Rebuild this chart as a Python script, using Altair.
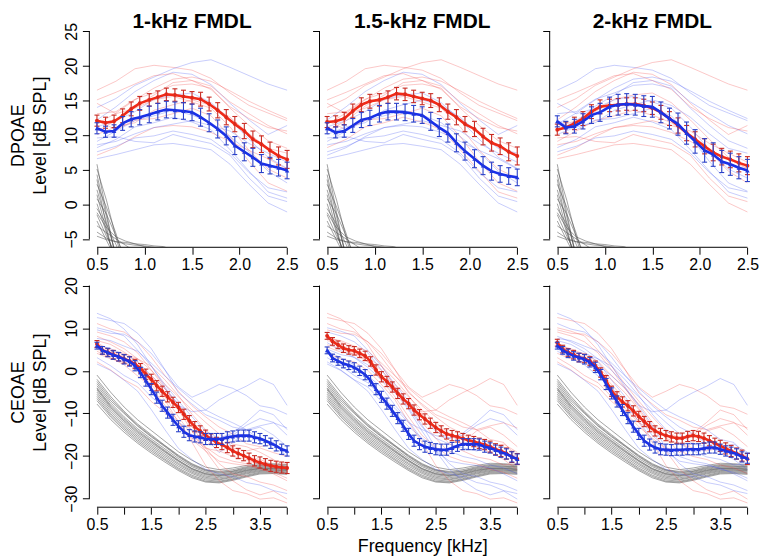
import altair as alt
import pandas as pd

FONT = "Liberation Sans"

# ---------------- text ----------------
panel_titles = ["1-kHz FMDL", "1.5-kHz FMDL", "2-kHz FMDL"]
row_titles = [["DPOAE", "Level [dB SPL]"], ["CEOAE", "Level [dB SPL]"]]
x_title = "Frequency [kHz]"

# ---------------- ticks ----------------
dp_xticks = [0.5, 1.0, 1.5, 2.0, 2.5]
dp_yticks = [-5, 0, 5, 10, 15, 20, 25]
ce_xticks = [0.5, 1.0, 1.5, 2.0, 2.5, 3.0, 3.5, 4.0]
ce_xlabels = [0.5, 1.5, 2.5, 3.5]
ce_yticks = [-30, -20, -10, 0, 10, 20]

# ---------------- DPOAE group means (kHz grid of the mean curves) ----------------
dp_mean_x = [0.5, 0.59, 0.68, 0.77, 0.86, 0.95, 1.05, 1.14, 1.23, 1.32, 1.41, 1.5,
             1.59, 1.68, 1.77, 1.86, 1.95, 2.05, 2.14, 2.23, 2.32, 2.41, 2.5]
dp_red_1 = [12.1, 11.8, 12.0, 12.8, 13.8, 14.6, 15.1, 15.5, 15.9, 15.8, 15.6, 15.4,
            15.2, 14.5, 13.6, 12.6, 11.6, 10.6, 9.4, 8.7, 7.8, 7.0, 6.5]
dp_blue_1 = [11.0, 10.5, 10.6, 11.7, 12.3, 12.6, 13.0, 13.4, 13.7, 13.6, 13.5, 13.3,
             12.6, 11.8, 10.9, 9.9, 8.5, 7.6, 6.8, 5.9, 5.6, 5.3, 4.9]
dp_red_2 = [11.9, 12.0, 12.4, 13.5, 14.4, 14.9, 15.1, 15.5, 16.0, 15.9, 15.6, 15.3,
            15.0, 14.4, 13.4, 12.6, 11.6, 10.9, 9.8, 8.9, 8.4, 7.6, 7.0]
dp_blue_2 = [11.0, 10.4, 10.6, 11.4, 12.2, 12.5, 13.1, 13.4, 13.4, 13.3, 13.1, 12.9,
             12.0, 11.1, 10.3, 8.9, 7.7, 6.6, 5.6, 4.8, 4.4, 4.1, 3.9]
dp_red_3 = [10.8, 11.1, 11.7, 12.4, 13.4, 14.1, 14.3, 14.4, 14.5, 14.5, 14.3, 13.9,
            13.3, 12.4, 11.4, 10.3, 9.4, 8.4, 7.5, 6.9, 6.5, 6.0, 5.6]
dp_blue_3 = [12.0, 11.1, 11.3, 12.0, 12.9, 13.3, 14.1, 14.4, 14.5, 14.4, 14.2, 14.1,
             13.3, 12.4, 11.6, 10.3, 9.1, 7.8, 7.2, 6.2, 5.8, 5.3, 4.9]
dp_sem_red = [0.8, 0.8, 0.9, 1.0, 1.0, 1.0, 0.9, 0.9, 0.9, 0.9, 0.9, 0.9,
              1.0, 1.0, 1.1, 1.1, 1.1, 1.1, 1.2, 1.2, 1.2, 1.3, 1.3]
dp_sem_blue = [0.8, 0.8, 0.9, 1.0, 1.1, 1.1, 1.2, 1.2, 1.2, 1.2, 1.2, 1.2,
               1.3, 1.3, 1.3, 1.3, 1.3, 1.3, 1.3, 1.3, 1.2, 1.2, 1.2]
dp_sem_blue_3 = [0.8, 0.9, 1.0, 1.1, 1.2, 1.3, 1.4, 1.5, 1.5, 1.5, 1.5, 1.5,
                 1.5, 1.5, 1.6, 1.6, 1.7, 1.7, 1.7, 1.6, 1.6, 1.6, 1.6]

# ---------------- CEOAE group means ----------------
ce_mean_x = [0.5, 0.6, 0.7, 0.8, 0.9, 1.0, 1.1, 1.2, 1.3, 1.4, 1.5, 1.6, 1.7, 1.8,
             1.9, 2.0, 2.1, 2.2, 2.3, 2.4, 2.5, 2.6, 2.7, 2.8, 2.9, 3.0, 3.1, 3.2,
             3.3, 3.4, 3.5, 3.6, 3.7, 3.8, 3.9, 4.0]
ce_red_1 = [6.3, 4.8, 4.3, 3.8, 3.3, 2.8, 2.3, 1.6, 0.6, -0.8, -2.0, -3.5, -4.8, -6.1,
            -7.4, -8.6, -10.2, -11.7, -13.1, -14.1, -15.1, -16.0, -16.8, -17.3, -18.0,
            -18.8, -19.4, -19.9, -20.5, -21.1, -21.5, -21.9, -22.3, -22.5, -22.7, -22.8]
ce_blue_1 = [5.9, 4.8, 4.3, 3.7, 3.3, 2.7, 2.2, 1.2, -0.4, -2.3, -4.3, -6.3, -8.2, -9.8,
             -11.5, -13.0, -14.3, -15.1, -15.4, -15.6, -16.0, -16.0, -16.0, -16.0, -15.6,
             -15.4, -15.2, -15.2, -15.2, -15.6, -15.9, -16.4, -17.0, -17.6, -18.4, -18.8]
ce_red_2 = [8.2, 6.9, 6.1, 5.3, 4.9, 4.7, 4.1, 3.5, 2.2, 0.2, -1.4, -2.5, -3.8, -5.3,
            -6.6, -7.7, -9.2, -10.3, -11.3, -12.3, -13.3, -14.1, -14.8, -15.2, -15.5,
            -15.9, -16.3, -16.6, -17.0, -17.3, -17.8, -18.4, -18.8, -19.4, -20.2, -20.7]
ce_blue_2 = [4.8, 3.0, 2.3, 1.7, 1.3, 0.8, 0.0, -0.9, -2.3, -4.3, -6.1, -7.7, -9.4, -11.1,
             -12.9, -14.8, -16.4, -17.2, -17.8, -18.1, -18.4, -18.5, -18.5, -18.1, -17.6,
             -17.2, -17.2, -17.2, -17.3, -17.8, -18.1, -18.6, -19.1, -19.5, -20.2, -20.7]
ce_red_3 = [6.6, 5.1, 4.3, 3.8, 3.1, 2.9, 2.3, 1.2, -0.4, -2.3, -4.8, -6.1, -7.3, -8.2,
            -9.4, -10.7, -11.9, -13.1, -14.1, -14.7, -15.2, -15.5, -15.8, -15.8, -15.4,
            -15.2, -15.4, -15.8, -16.4, -17.0, -17.6, -18.2, -18.8, -19.4, -19.9, -20.7]
ce_blue_3 = [5.9, 4.8, 4.1, 3.5, 3.1, 2.7, 2.0, 0.8, -0.9, -3.1, -5.3, -7.2, -9.2, -11.1,
             -13.1, -14.8, -16.4, -17.3, -18.0, -18.4, -18.5, -18.6, -18.5, -18.5, -18.4,
             -18.4, -18.4, -18.2, -18.0, -18.0, -18.4, -18.8, -19.1, -19.5, -20.2, -20.5]
ce_sem_red = [0.8, 0.9, 0.9, 1.0, 1.0, 1.0, 1.0, 1.1, 1.1, 1.2, 1.2, 1.2, 1.2, 1.2,
              1.2, 1.2, 1.2, 1.2, 1.2, 1.2, 1.2, 1.2, 1.2, 1.2, 1.2, 1.2, 1.2, 1.2,
              1.2, 1.2, 1.3, 1.3, 1.3, 1.3, 1.3, 1.3]
ce_sem_blue = [0.8, 0.9, 1.0, 1.0, 1.0, 1.1, 1.1, 1.2, 1.2, 1.3, 1.3, 1.3, 1.3, 1.3,
               1.3, 1.3, 1.3, 1.3, 1.3, 1.3, 1.3, 1.3, 1.3, 1.3, 1.3, 1.3, 1.3, 1.3,
               1.3, 1.3, 1.2, 1.2, 1.2, 1.2, 1.2, 1.2]

# ---------------- individual DPOAE curves ----------------
dp_ind_x = [0.5, 0.7, 0.9, 1.1, 1.3, 1.5, 1.7, 1.9, 2.1, 2.3, 2.5]
dp_ind = [
    [16.5, 17.8, 19.6, 20.1, 19.8, 19.4, 18.2, 16.1, 14.3, 13.2, 12.1],
    [14.0, 15.3, 17.2, 18.4, 19.6, 20.5, 20.9, 19.8, 18.6, 17.4, 16.5],
    [12.2, 14.1, 16.3, 17.9, 19.1, 18.8, 17.3, 14.6, 12.2, 10.1, 11.4],
    [13.1, 13.4, 15.2, 16.1, 17.2, 17.4, 16.8, 13.9, 11.4, 9.2, 8.1],
    [11.2, 12.1, 13.4, 15.2, 15.8, 16.1, 14.7, 12.2, 9.4, 6.8, 5.2],
    [10.1, 11.2, 11.8, 13.6, 14.4, 15.1, 14.3, 12.6, 10.2, 8.1, 7.4],
    [9.1, 10.6, 12.1, 12.8, 13.6, 12.9, 11.8, 9.8, 7.6, 4.8, 3.1],
    [8.2, 9.4, 11.2, 11.8, 12.6, 11.9, 10.8, 7.9, 4.8, 1.8, 0.9],
    [12.1, 10.8, 12.2, 12.4, 13.1, 13.9, 12.8, 9.8, 6.2, 3.1, 1.9],
    [7.1, 8.2, 9.8, 11.1, 11.4, 11.2, 10.4, 9.1, 7.8, 6.6, 5.1],
    [9.6, 9.8, 9.1, 8.9, 10.1, 9.4, 8.8, 7.1, 3.8, 1.2, 0.4],
    [14.6, 13.1, 13.9, 15.1, 15.6, 14.8, 13.9, 11.2, 7.8, 5.1, 3.8],
    [10.6, 12.1, 14.2, 15.8, 17.6, 17.9, 17.1, 14.8, 13.1, 11.4, 10.2],
    [6.6, 7.2, 7.9, 8.6, 8.8, 8.4, 7.9, 5.8, 2.9, 0.2, -1.1],
    [11.6, 13.2, 15.1, 16.8, 18.1, 18.4, 17.8, 16.4, 14.9, 13.6, 12.4],
    [8.6, 9.1, 10.2, 11.1, 11.6, 12.1, 11.4, 10.6, 8.8, 7.4, 6.1],
    [15.1, 16.2, 17.4, 18.6, 18.9, 17.9, 16.6, 14.1, 12.4, 11.1, 10.6],
    [7.6, 8.4, 9.6, 9.9, 10.6, 10.1, 9.4, 7.4, 4.6, 2.4, 1.8],
]
dp_groups = ["rbbrbrbbrrbrrbrbrb", "rrbrbbbrrbbrrbrbrb", "brrbrbrbbrrbbrbrrb"]

# ---------------- DPOAE noise floors ----------------
dp_noise_x = [0.5, 0.6, 0.7, 0.8, 0.9, 1.0, 1.1, 1.2, 1.3]
dp_noise = [
    [5.8, -1.2, -8.0, -12.0, -12.0, -12.0, -12.0, -12.0, -12.0],
    [5.1, 0.6, -4.8, -9.5, -12.0, -12.0, -12.0, -12.0, -12.0],
    [4.3, -1.8, -7.6, -12.0, -12.0, -12.0, -12.0, -12.0, -12.0],
    [3.6, -3.2, -9.4, -12.0, -12.0, -12.0, -12.0, -12.0, -12.0],
    [2.9, -0.4, -4.2, -8.8, -12.0, -12.0, -12.0, -12.0, -12.0],
    [2.1, -2.6, -7.2, -12.0, -12.0, -12.0, -12.0, -12.0, -12.0],
    [1.4, -3.8, -8.6, -12.0, -12.0, -12.0, -12.0, -12.0, -12.0],
    [0.8, -1.4, -4.6, -7.8, -12.0, -12.0, -12.0, -12.0, -12.0],
    [0.1, -4.1, -8.2, -12.0, -12.0, -12.0, -12.0, -12.0, -12.0],
    [-0.6, -2.9, -5.8, -8.9, -12.0, -12.0, -12.0, -12.0, -12.0],
    [-1.5, -4.6, -7.2, -12.0, -12.0, -12.0, -12.0, -12.0, -12.0],
    [-2.4, -5.2, -7.9, -12.0, -12.0, -12.0, -12.0, -12.0, -12.0],
    [-3.1, -4.1, -5.0, -5.9, -6.8, -8.0, -12.0, -12.0, -12.0],
    [-4.0, -4.9, -5.4, -5.7, -5.9, -6.0, -6.2, -6.6, -7.0],
    [-4.6, -5.1, -5.4, -5.5, -5.7, -5.8, -6.0, -6.1, -6.6],
    [-1.2, -3.4, -4.7, -5.3, -5.7, -6.1, -6.5, -7.0, -7.5],
]

# ---------------- individual CEOAE curves ----------------
ce_ind_x = [0.5, 0.75, 1.0, 1.25, 1.5, 1.75, 2.0, 2.25, 2.5, 2.75, 3.0, 3.25, 3.5, 3.75, 4.0]
ce_ind = [
    [13.5, 12.2, 9.8, 6.1, 1.2, -3.8, -8.1, -9.6, -9.2, -6.8, -5.1, -3.6, -1.8, -3.2, -8.1],
    [12.5, 11.8, 11.1, 8.8, 5.2, 0.3, -5.2, -7.8, -10.3, -11.6, -13.2, -13.8, -12.9, -12.2, -13.4],
    [10.1, 9.3, 8.2, 4.8, 1.1, -3.2, -7.1, -10.8, -14.2, -15.8, -14.6, -12.1, -9.2, -10.3, -13.8],
    [9.1, 8.2, 6.8, 4.2, 0.2, -4.1, -8.8, -13.2, -15.8, -17.2, -18.1, -18.8, -18.1, -19.2, -20.1],
    [8.1, 6.8, 5.2, 2.8, 0.1, -3.2, -6.1, -9.2, -12.1, -14.8, -17.2, -17.8, -19.1, -20.8, -23.2],
    [7.1, 6.2, 4.4, 2.1, -2.2, -6.1, -10.8, -15.2, -17.9, -20.1, -21.2, -21.8, -23.1, -23.8, -25.2],
    [6.6, 4.8, 3.1, 0.8, -2.1, -5.2, -9.1, -14.2, -18.8, -23.1, -25.8, -27.9, -29.1, -28.2, -30.1],
    [6.1, 5.2, 3.8, 2.2, -1.1, -4.2, -7.8, -12.1, -15.8, -19.2, -16.8, -14.1, -13.2, -15.1, -17.8],
    [5.1, 3.8, 3.2, 1.4, -1.2, -4.1, -8.2, -12.8, -18.1, -21.8, -24.2, -24.8, -26.1, -26.8, -28.1],
    [4.6, 3.1, 1.4, -1.2, -3.8, -8.1, -11.8, -16.2, -18.8, -21.2, -21.8, -22.2, -22.8, -24.2, -25.8],
    [4.1, 2.8, 2.1, 0.1, -3.2, -6.8, -12.1, -16.8, -22.2, -25.8, -28.1, -28.8, -30.1, -29.8, -31.0],
    [3.1, 1.2, -1.1, -2.8, -6.1, -8.8, -12.2, -13.8, -15.2, -15.8, -15.1, -12.8, -11.2, -12.1, -15.1],
    [2.1, 0.2, -2.1, -3.8, -7.2, -9.8, -13.1, -15.8, -18.2, -18.8, -20.1, -20.8, -22.1, -22.8, -24.1],
    [11.1, 9.8, 9.1, 6.8, 3.2, -1.1, -4.8, -8.2, -10.8, -13.2, -14.8, -17.1, -17.8, -17.2, -19.1],
    [9.6, 8.8, 8.6, 6.8, 4.1, 0.2, -3.8, -6.2, -4.8, -3.2, -4.1, -5.8, -8.2, -8.8, -10.2],
    [7.6, 7.1, 5.8, 4.6, 1.8, -1.2, -4.1, -6.8, -9.2, -10.8, -12.2, -13.8, -16.1, -16.8, -20.2],
    [1.6, 0.1, -2.2, -4.8, -9.1, -13.8, -18.2, -20.8, -23.1, -24.2, -24.8, -26.2, -26.8, -28.1, -28.8],
    [5.6, 4.4, 4.1, 2.8, 1.1, -2.1, -5.8, -10.2, -13.8, -17.1, -18.8, -20.2, -20.8, -22.1, -21.8],
]
ce_groups = ["bbbrrrrbrrrbrrbbbr", "rrbbrrbrbbrbbrrrbr", "brrrbbrrbbrrrbrbbb"]

# ---------------- CEOAE noise floors ----------------
ce_noise = [
    [-1.0, -5.0, -8.5, -11.5, -14.0, -16.5, -19.0, -21.0, -22.6, -23.2, -22.8, -22.2, -21.7, -21.8, -22.0],
    [-2.0, -6.0, -9.5, -12.5, -15.0, -17.5, -19.8, -21.8, -23.2, -23.6, -23.2, -22.5, -22.0, -22.0, -22.3],
    [-3.0, -7.0, -10.0, -13.0, -15.5, -17.8, -20.2, -22.2, -23.5, -24.0, -23.6, -22.9, -22.4, -22.4, -22.6],
    [-3.5, -7.5, -10.8, -13.6, -16.0, -18.3, -20.6, -22.5, -23.8, -24.3, -23.8, -23.1, -22.6, -22.6, -22.8],
    [-4.0, -8.0, -11.2, -14.0, -16.4, -18.7, -21.0, -22.9, -24.1, -24.5, -24.0, -23.3, -22.8, -22.8, -23.0],
    [-4.5, -8.6, -11.8, -14.6, -16.9, -19.1, -21.3, -23.2, -24.4, -24.8, -24.3, -23.6, -23.0, -23.0, -23.2],
    [-5.0, -9.0, -12.2, -15.0, -17.3, -19.5, -21.7, -23.5, -24.7, -25.1, -24.6, -23.8, -23.2, -23.2, -23.4],
    [-5.5, -9.5, -12.7, -15.4, -17.7, -19.9, -22.0, -23.8, -25.0, -25.4, -24.8, -24.0, -23.4, -23.3, -23.5],
    [-6.0, -10.0, -13.1, -15.8, -18.1, -20.3, -22.4, -24.1, -25.3, -25.6, -25.0, -24.2, -23.6, -23.5, -23.7],
    [-6.5, -10.4, -13.5, -16.2, -18.5, -20.7, -22.8, -24.5, -25.6, -25.9, -25.3, -24.5, -23.8, -23.7, -23.9],
    [-7.0, -10.8, -13.9, -16.6, -18.9, -21.0, -23.1, -24.8, -25.9, -26.1, -25.5, -24.7, -24.0, -23.9, -24.1],
    [-7.8, -11.4, -14.4, -17.0, -19.3, -21.4, -23.4, -25.1, -26.1, -26.3, -25.7, -24.9, -24.2, -24.1, -24.3],
    [-2.5, -6.5, -9.8, -12.8, -15.3, -17.6, -20.0, -22.0, -23.3, -23.8, -23.5, -22.7, -22.2, -22.3, -22.5],
    [-4.2, -8.3, -11.5, -14.3, -16.6, -18.9, -21.1, -23.0, -24.2, -24.6, -24.2, -23.4, -22.9, -22.9, -23.1],
]

# ---------------- style ----------------
RED, BLUE = "#f02a18", "#1a30e8"
RED_ERR, BLUE_ERR = "#c82a22", "#2a40c8"
RED_THIN, BLUE_THIN = "#f04848", "#4858f0"
GRAY = "#505050"
W = 207
H_TOP, H_BOT = 226, 232


def long_curves(xs, curves, groups=None):
    rows = []
    for i, c in enumerate(curves):
        for x, y in zip(xs, c):
            r = {"id": i, "x": x, "y": y}
            if groups is not None:
                r["grp"] = groups[i]
            rows.append(r)
    return pd.DataFrame(rows)


def mean_df(xs, ys, sems):
    return pd.DataFrame({"x": xs, "y": ys,
                         "lo": [y - s for y, s in zip(ys, sems)],
                         "hi": [y + s for y, s in zip(ys, sems)]})


def panel(kind, col):
    if kind == "dp":
        xdom, ydom, H = [0.42, 2.58], [-6.2, 26.2], H_TOP
        xticks, yticks = dp_xticks, dp_yticks
        xr, yr = (0.5, 2.5), (-5, 25)
        means = [(dp_red_1, dp_blue_1), (dp_red_2, dp_blue_2), (dp_red_3, dp_blue_3)][col]
        sems = (dp_sem_red, dp_sem_blue_3 if col == 2 else dp_sem_blue)
        mx = dp_mean_x
        noise = long_curves(dp_noise_x, dp_noise)
        ind = long_curves(dp_ind_x, dp_ind, dp_groups[col])
        xaxis = alt.Axis(values=xticks, format=".1f", title=None, tickSize=7,
                         labelPadding=2, domain=False, grid=False, labelFlush=False,
                         labelOverlap=False, tickColor="black")
    else:
        xdom, ydom, H = [0.36, 4.14], [-32, 22], H_BOT
        xticks, yticks = ce_xticks, ce_yticks
        xr, yr = (0.5, 4.0), (-30, 20)
        means = [(ce_red_1, ce_blue_1), (ce_red_2, ce_blue_2), (ce_red_3, ce_blue_3)][col]
        sems = (ce_sem_red, ce_sem_blue)
        mx = ce_mean_x
        noise = long_curves(ce_ind_x, ce_noise)
        ind = long_curves(ce_ind_x, ce_ind, ce_groups[col])
        lab = ",".join(str(v) for v in ce_xlabels)
        xaxis = alt.Axis(values=xticks, title=x_title if col == 1 else None,
                         labelExpr=f"indexof([{lab}], datum.value) >= 0 ? format(datum.value, '.1f') : ''",
                         tickSize=7, labelPadding=2, domain=False, grid=False,
                         labelFlush=False, labelOverlap=False, titlePadding=6,
                         tickColor="black")
    yaxis = alt.Axis(values=yticks, labels=(col == 0),
                     title=row_titles[0 if kind == "dp" else 1] if col == 0 else None,
                     labelAngle=270, labelAlign="center", labelBaseline="bottom",
                     tickSize=7, labelPadding=3, titlePadding=14, titleLineHeight=22,
                     domain=False, grid=False, labelFlush=False, labelOverlap=False,
                     tickColor="black")
    xs = alt.Scale(domain=xdom, nice=False, zero=False)
    ys = alt.Scale(domain=ydom, nice=False, zero=False)
    X = alt.X("x:Q", scale=xs, axis=xaxis)
    Y = alt.Y("y:Q", scale=ys, axis=yaxis)

    layers = []
    layers.append(alt.Chart(noise).mark_line(clip=True, color=GRAY, strokeWidth=0.7, opacity=0.75)
                  .encode(x=X, y=Y, detail="id:N"))
    layers.append(alt.Chart(ind).mark_line(clip=True, strokeWidth=0.8, opacity=0.38)
                  .encode(x=X, y=Y, detail="id:N",
                          color=alt.Color("grp:N", scale=alt.Scale(domain=["r", "b"], range=[RED_THIN, BLUE_THIN]),
                                          legend=None)))
    for ys_, sem, col_line, col_err, shape, size in [
        (means[0], sems[0], RED, RED_ERR, "circle", 16),
        (means[1], sems[1], BLUE, BLUE_ERR, "triangle-up", 20),
    ]:
        md = mean_df(mx, ys_, sem)
        base = alt.Chart(md)
        layers.append(base.mark_line(color=col_line, strokeWidth=2.6).encode(x=X, y=Y))
        layers.append(base.mark_point(filled=True, color=col_line, opacity=1, shape=shape, size=size)
                      .encode(x=X, y=Y))
        layers.append(base.mark_rule(color=col_err, strokeWidth=1.1)
                      .encode(x=X, y=alt.Y("lo:Q", scale=ys, axis=yaxis), y2="hi:Q"))
        layers.append(base.transform_fold(["lo", "hi"], as_=["k", "cy"])
                      .mark_rule(color=col_err, strokeWidth=1.1, xOffset=-2.5, x2Offset=2.5)
                      .encode(x=X, x2="x:Q", y=alt.Y("cy:Q", scale=ys, axis=yaxis)))
    # R-style detached axis lines
    xl = pd.DataFrame({"x": [xr[0]], "x2": [xr[1]]})
    yl = pd.DataFrame({"y": [yr[0]], "y2": [yr[1]]})
    layers.append(alt.Chart(xl).mark_rule(color="black", strokeWidth=1)
                  .encode(x=X, x2="x2:Q", y=alt.value(H)))
    layers.append(alt.Chart(yl).mark_rule(color="black", strokeWidth=1)
                  .encode(x=alt.value(0), y=Y, y2="y2:Q"))

    ch = alt.layer(*layers).properties(width=W, height=H)
    if kind == "dp":
        ch = ch.properties(title=alt.TitleParams(panel_titles[col], fontSize=21, fontWeight="bold",
                                                 font=FONT, anchor="middle", offset=-9, color="black"))
    return ch


panels = [panel("dp", c) for c in range(3)] + [panel("ce", c) for c in range(3)]
chart = alt.concat(*panels, columns=3, spacing={"row": 30, "column": 25}, bounds="flush").properties(
    padding={"left": 2, "top": 0, "right": 0, "bottom": 0}
).configure(font=FONT).configure_view(strokeWidth=0).configure_axis(
    labelFont=FONT, titleFont=FONT, labelFontSize=16, titleFontSize=18,
    labelColor="black", titleColor="black", titleFontWeight="normal"
)

chart.save("out.html", embed_options={"renderer": "svg", "actions": False})
